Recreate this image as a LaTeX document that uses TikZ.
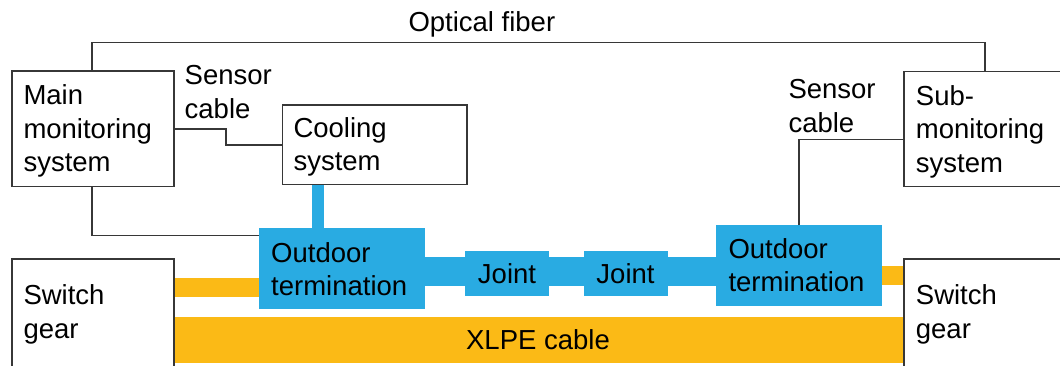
\documentclass[tikz,border=0pt]{standalone}
\usepackage{fontspec}
\setmainfont{Liberation Sans}
\usetikzlibrary{backgrounds}
\definecolor{cblue}{RGB}{41,171,226}
\definecolor{corange}{RGB}{251,186,22}
\definecolor{wirec}{RGB}{55,55,55}
\begin{document}
\begin{tikzpicture}[x=1pt,y=-1pt,
  box/.style={draw=wirec, line width=1.5pt, rectangle, inner sep=0pt, anchor=north west},
  txt/.style={inner sep=0pt, anchor=base west, align=left, font=\fontsize{27.5}{33.5}\selectfont},
  wire/.style={draw=wirec, line width=1.5pt},
  bluebox/.style={fill=cblue, rectangle, inner sep=0pt, anchor=north west},
  jointbox/.style={fill=cblue, rectangle, inner sep=0pt, minimum width=84pt, minimum height=45pt, font=\fontsize{27.5}{33.5}\selectfont}]
\useasboundingbox (0,0) rectangle (1060,366);
% coordinates
\coordinate (f1) at (92,42.7);
\coordinate (f2) at (985,42.7);
\coordinate (s1) at (226,0);
\coordinate (m2) at (0,235.7);
\coordinate (r1) at (0,139.3);
\coordinate (st) at (318,0);
\coordinate (bL) at (0,287.8);
\coordinate (bR) at (0,275.1);
\coordinate (bb) at (0,271.25);
% blue parts
\node[bluebox, minimum width=166pt, minimum height=80pt] (termL) at (259,228.3) {};
\node[bluebox, minimum width=166pt, minimum height=80.4pt] (termR) at (715.7,225.3) {};
\node[jointbox] (j1) at (507,273.5) {Joint};
\node[jointbox] (j2) at (625.5,273.4) {Joint};
% boxes
\node[box, minimum width=162pt, minimum height=115.5pt] (main) at (11,70.5) {};
\node[box, minimum width=184.5pt, minimum height=79.5pt] (cool) at (281.5,104.5) {};
\node[box, minimum width=200pt, minimum height=115pt] (sub) at (903,70.7) {};
\node[box, minimum width=162pt, minimum height=130pt] (sgL) at (11,258.3) {};
\node[box, minimum width=200pt, minimum height=130pt] (sgR) at (903,258.3) {};
\begin{scope}[on background layer]
  \fill[white] (0,0) rectangle (1060,366);
  \node[fill=corange, inner sep=0pt, minimum width=730pt, minimum height=46pt, font=\fontsize{27.5}{33.5}\selectfont] (xlpe) at (538,339.7) {XLPE cable};
  \draw[corange, line width=19pt] (sgL.east |- bL) -- (termL.west |- bL);
  \draw[corange, line width=19.2pt] (termR.east |- bR) -- (sgR.west |- bR);
  \draw[cblue, line width=29.5pt] (termL.east |- bb) -- (termR.west |- bb);
\end{scope}
\draw[cblue, line width=12.6pt] (cool.south -| st) -- (termL.north -| st);
% wires
\draw[wire] (main.north -| f1) -- (f1) -- (f2) -- (sub.north -| f2);
\draw[wire] (main.east) -- (main.east -| s1) -- (cool.west -| s1) -- (cool.west);
\draw[wire] (main.south -| f1) -- (f1 |- m2) -- (termL.west |- m2);
\draw[wire] (termR.north) -- (termR.north |- r1) -- (sub.west |- r1);
% texts (base anchor = baseline of the last line)
\node[txt] (tOpt) at (408.3,31.7) {Optical fiber};
\node[txt] (tMain) at (23.3,172) {Main\\monitoring\\system};
\node[txt] (tSensL) at (184.5,118.5) {Sensor\\cable};
\node[txt] (tCool) at (293.3,171) {Cooling\\system};
\node[txt] (tSub) at (915.7,172.5) {Sub-\\monitoring\\system};
\node[txt] (tSensR) at (788.3,132.5) {Sensor\\cable};
\node[txt] (tTermL) at (271,295.5) {Outdoor\\termination};
\node[txt] (tTermR) at (728.3,291.8) {Outdoor\\termination};
\node[txt] (tSgL) at (23.3,338) {Switch\\gear};
\node[txt] (tSgR) at (915.7,338) {Switch\\gear};
\end{tikzpicture}
\end{document}
